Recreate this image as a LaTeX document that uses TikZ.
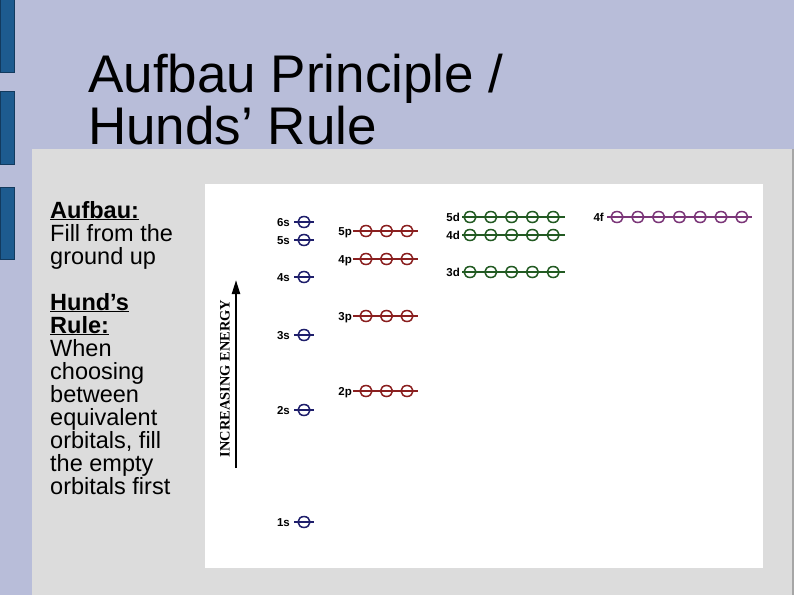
\documentclass[tikz,border=0pt]{standalone}
\usepackage{fontspec}
\setmainfont{Liberation Sans}
\newfontfamily\serifb{Liberation Serif}
\usetikzlibrary{arrows.meta}
\definecolor{lav}{HTML}{B8BDD9}
\definecolor{barblue}{HTML}{1D5B8F}
\definecolor{baredge}{HTML}{123A5E}
\definecolor{panel}{HTML}{DCDCDC}
\definecolor{sc}{HTML}{1E1E6B}
\definecolor{pc}{HTML}{8A1F1F}
\definecolor{dc}{HTML}{225A22}
\definecolor{fc}{HTML}{7B3678}
\tikzset{
  lbl/.style={font=\bfseries\fontsize{11.5}{11.5}\selectfont, inner sep=0pt, anchor=base east},
  lvl/.style={line width=1.2pt},
  orb/.style={line width=1.5pt},
  bar/.style={fill=barblue, draw=baredge, line width=0.8pt}
}
\begin{document}
\begin{tikzpicture}[x=1pt,y=-1pt]
\useasboundingbox (0,0) rectangle (794,595);
% background
\fill[lav] (0,0) rectangle (794,595);
\draw[bar] (0,-2) rectangle (14,72);
\draw[bar] (0,91) rectangle (14,164);
\draw[bar] (0,187) rectangle (14,259);
\fill[panel] (32,149) rectangle (794,595);
\fill[gray!70] (792,149) rectangle (794,595);
\fill[white] (205,184) rectangle (763,568);
% title (anchor on baseline of last line)
\node[anchor=base west, inner sep=0pt, align=left, font=\fontsize{53}{52}\selectfont] (title) at (88,144) {Aufbau Principle /\\Hunds’ Rule};
% left text (anchor on baseline of last line)
\node[anchor=base west, inner sep=0pt, align=left, font=\fontsize{23.5}{23}\selectfont] (body) at (50,494)
{\textbf{\underline{Aufbau:}}\\Fill from the\\ground up\\[23pt]\textbf{\underline{Hund’s}}\\\textbf{\underline{Rule:}}\\When\\choosing\\between\\equivalent\\orbitals, fill\\the empty\\orbitals first};
% energy arrow
\coordinate (abot) at (236,468);
\coordinate (atop) at (236,280);
\draw[line width=2.2pt, -{Triangle[length=14pt,width=8pt]}] (abot) -- (atop);
\node[rotate=90, inner sep=0pt, font=\serifb\bfseries\fontsize{14.4}{14.4}\selectfont] (alabel) at (225,378.5) {INCREASING ENERGY};
% s orbitals
\foreach \n/\y in {6s/222,5s/240,4s/277,3s/335,2s/410,1s/522}{
  \draw[sc, lvl] (294,\y) -- (314,\y);
  \draw[sc, orb] (304,\y) ellipse (6 and 5.5);
  \node[lbl] (l\n) at (290,\y+4) {\n};
}
% p orbitals
\foreach \n/\y in {5p/231,4p/259,3p/316,2p/391}{
  \draw[pc, lvl] (353,\y) -- (418,\y);
  \foreach \i in {0,1,2}{\draw[pc, orb] (366+20.5*\i,\y) ellipse (6 and 5.5);}
  \node[lbl] (l\n) at (352,\y+4) {\n};
}
% d orbitals
\foreach \n/\y in {5d/217,4d/235,3d/272}{
  \draw[dc, lvl] (462,\y) -- (565,\y);
  \foreach \i in {0,...,4}{\draw[dc, orb] (470+20.8*\i,\y) ellipse (6 and 5.5);}
  \node[lbl] (l\n) at (460,\y+4) {\n};
}
% f orbitals
\foreach \n/\y in {4f/217}{
  \draw[fc, lvl] (607,\y) -- (752,\y);
  \foreach \i in {0,...,6}{\draw[fc, orb] (617+20.8*\i,\y) ellipse (6 and 5.5);}
  \node[lbl] (l\n) at (604,\y+4) {\n};
}
\end{tikzpicture}
\end{document}
